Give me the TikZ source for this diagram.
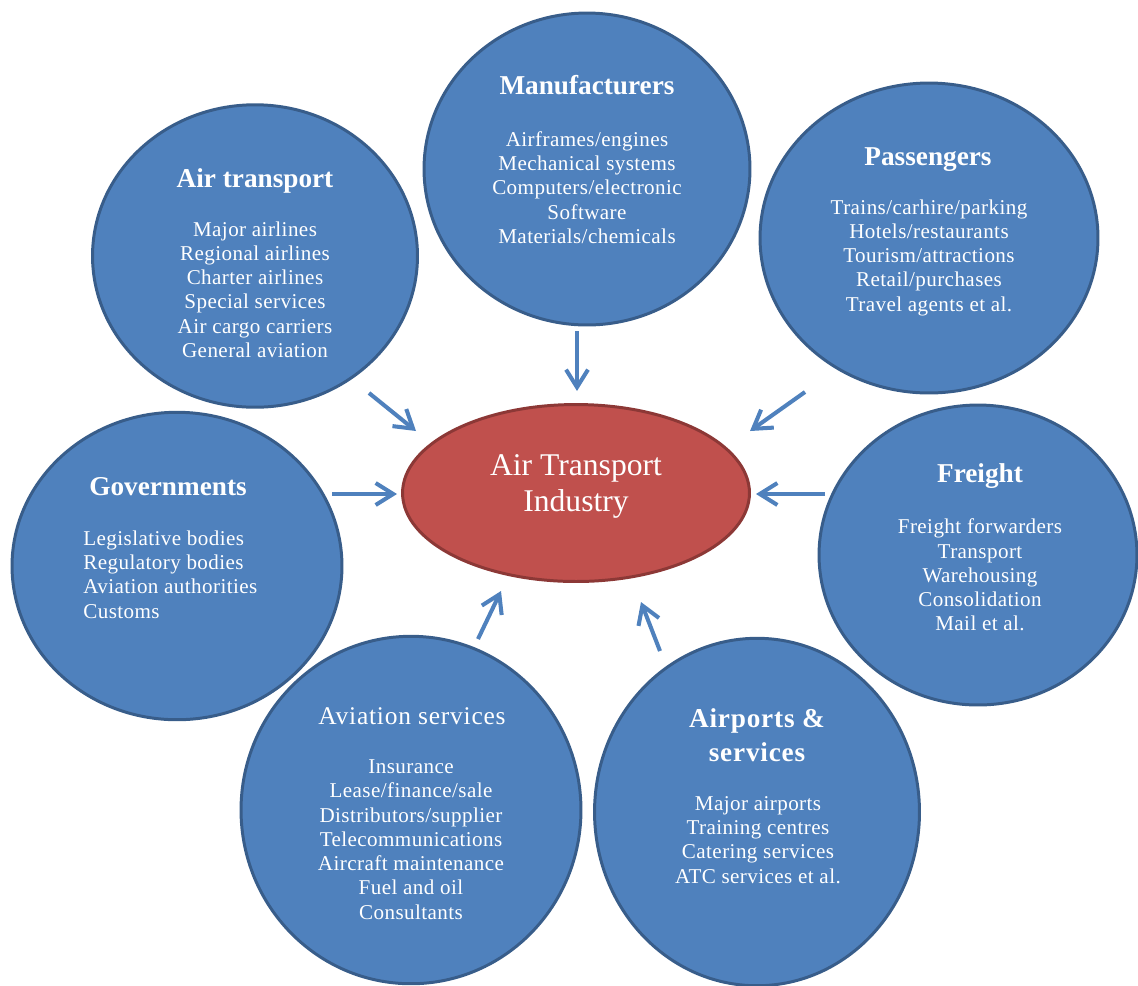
\documentclass[tikz,border=0pt]{standalone}
\usepackage{fontspec}
\setmainfont{Liberation Serif}
\usetikzlibrary{shapes.geometric,arrows.meta}
\definecolor{circfill}{HTML}{4F81BD}
\definecolor{circline}{HTML}{385D8A}
\definecolor{hubfill}{HTML}{C0504D}
\definecolor{hubline}{HTML}{8C3836}
\definecolor{arrowblue}{HTML}{4F81BD}
\begin{document}
\begin{tikzpicture}[x=0.02cm,y=-0.02cm,
  group/.style={ellipse,fill=circfill,draw=circline,line width=1.7pt,inner sep=0pt},
  hubshape/.style={ellipse,fill=hubfill,draw=hubline,line width=1.7pt,inner sep=0pt,
    minimum width=6.94cm,minimum height=3.54cm},
  title/.style={text=white,font=\fontsize{15.5}{18.5}\selectfont\bfseries,align=center,inner sep=0pt},
  items/.style={text=white,font=\fontsize{12}{13.8}\selectfont\addfontfeatures{LetterSpace=2},align=center,inner sep=0pt},
  hubtext/.style={text=white,font=\fontsize{18}{20.5}\selectfont,align=center,inner sep=0pt},
  feed/.style={draw=arrowblue,line width=2.3pt,-{Straight Barb[length=10pt,width=12.5pt]}}]
\useasboundingbox (0,0) rectangle (1138,985);

% outer groups
\node[group,minimum width=6.5cm,minimum height=6.05cm] (air) at (255,256) {};
\node[group,minimum width=6.52cm,minimum height=6.24cm] (man) at (587,169) {};
\node[group,minimum width=6.76cm,minimum height=6.2cm] (pas) at (929,238) {};
\node[group,minimum width=6.6cm,minimum height=6.15cm] (gov) at (177,566) {};
\node[group,minimum width=6.36cm,minimum height=6.0cm] (fre) at (978,555) {};
\node[group,minimum width=6.8cm,minimum height=6.95cm] (avs) at (411,810) {};
\node[group,minimum width=6.5cm,minimum height=6.95cm] (apt) at (757,812) {};

% central hub
\node[hubshape] (hub) at (576,493) {};
\node[hubtext] (hublabel) at (576,486) {Air Transport\\Industry};

% titles
\node[title] (airT) at (255,181) {Air transport};
\node[title] (manT) at (587,85) {Manufacturers};
\node[title] (pasT) at (928,160) {Passengers};
\node[title] (govT) at (168,487) {Governments};
\node[title] (freT) at (980,476) {Freight};
\node[text=white,font=\fontsize{14.5}{17}\selectfont\addfontfeatures{LetterSpace=3},inner sep=0pt] (avsT) at (412,716) {Aviation services};
\node[title,font=\fontsize{15.5}{19}\selectfont\bfseries\addfontfeatures{LetterSpace=3}] (aptT) at (757,735) {Airports \&\\services};

% item lists
\node[items] (airL) at (255,289.5) {Major airlines\\Regional airlines\\Charter airlines\\Special services\\Air cargo carriers\\General aviation};
\node[items] (manL) at (587,187.5) {Airframes/engines\\Mechanical systems\\Computers/electronic\\Software\\Materials/chemicals};
\node[items] (pasL) at (929,257.5) {Trains/carhire/parking\\Hotels/restaurants\\Tourism/attractions\\Retail/purchases\\Travel agents et al.};
\node[items,align=left,anchor=west] (govL) at (83,574.5) {Legislative bodies\\Regulatory bodies\\Aviation authorities\\Customs};
\node[items] (freL) at (980,575) {Freight forwarders\\Transport\\Warehousing\\Consolidation\\Mail et al.};
\node[items] (avsL) at (411,839.5) {Insurance\\Lease/finance/sale\\Distributors/supplier\\Telecommunications\\Aircraft maintenance\\Fuel and oil\\Consultants};
\node[items] (aptL) at (758,840) {Major airports\\Training centres\\Catering services\\ATC services et al.};

% arrow ends in the gaps around the hub
\coordinate (airA) at (369,393);  \coordinate (airB) at (416,431);
\coordinate (manA) at (577,331);  \coordinate (manB) at (577,391);
\coordinate (pasA) at (805,392);  \coordinate (pasB) at (750,431);
\coordinate (govA) at (332,494);  \coordinate (govB) at (397,494);
\coordinate (freA) at (825,494);  \coordinate (freB) at (756,494);
\coordinate (avsA) at (478,639);  \coordinate (avsB) at (501,591);
\coordinate (aptA) at (660,651);  \coordinate (aptB) at (641,602);

\draw[feed] (airA) -- (airB);
\draw[feed] (manA) -- (manB);
\draw[feed] (pasA) -- (pasB);
\draw[feed] (govA) -- (govB);
\draw[feed] (freA) -- (freB);
\draw[feed] (avsA) -- (avsB);
\draw[feed] (aptA) -- (aptB);
\end{tikzpicture}
\end{document}
